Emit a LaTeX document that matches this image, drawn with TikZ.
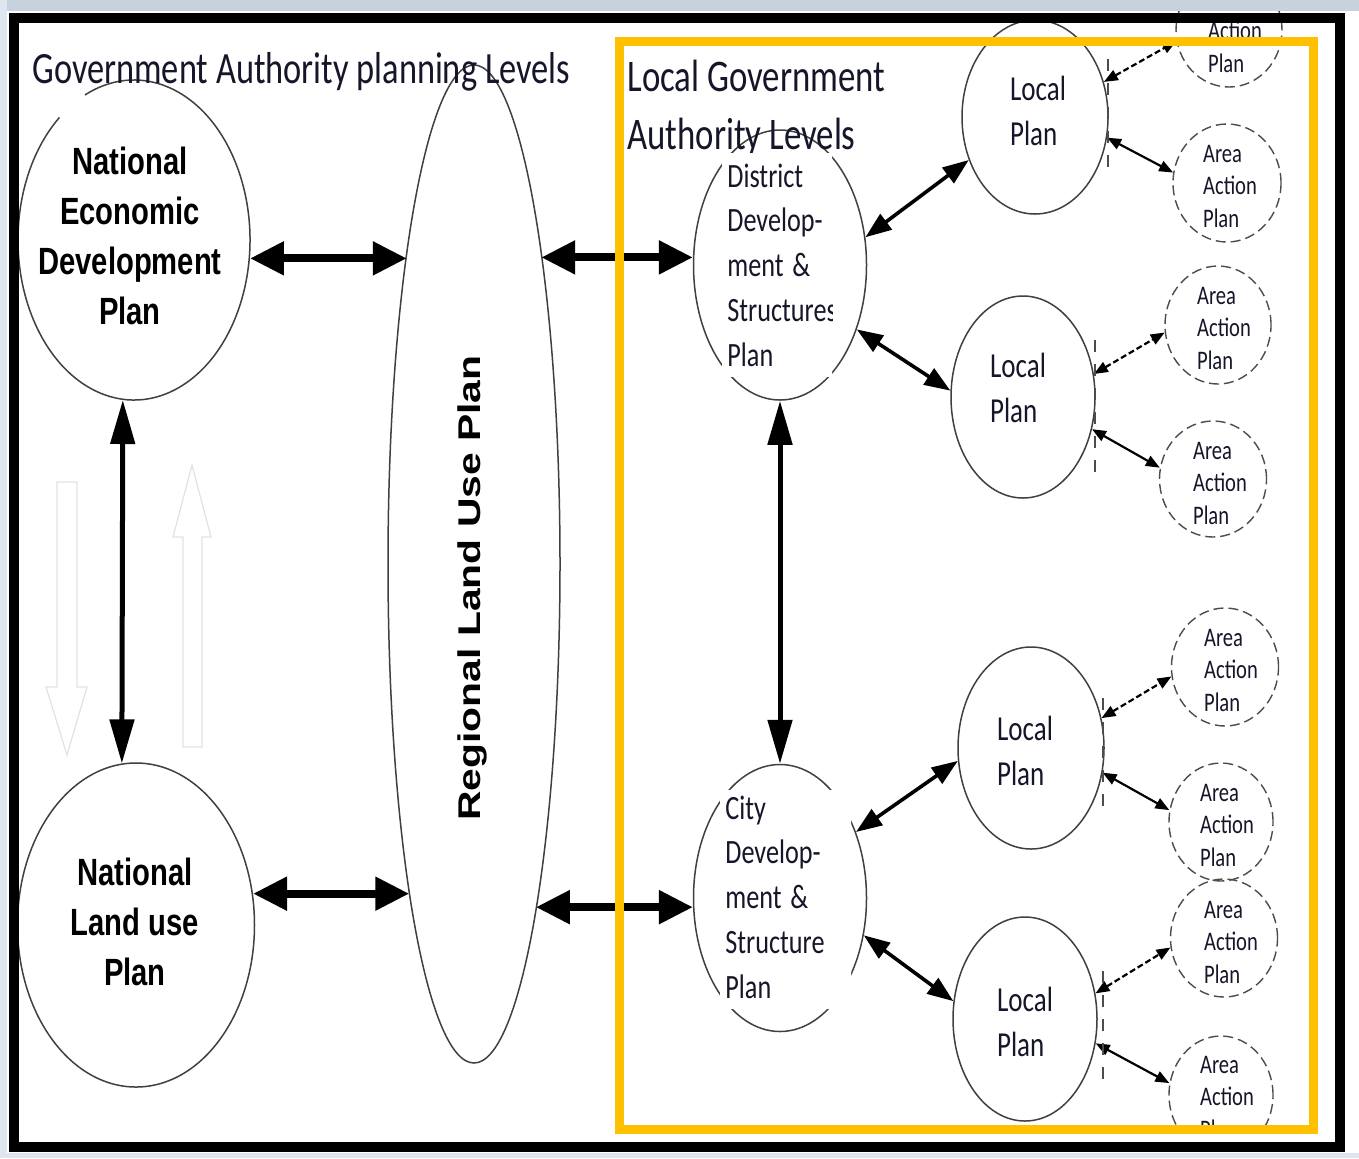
\documentclass[tikz,border=0pt]{standalone}
\usepackage{fontspec}
\setmainfont{Carlito}
\newfontfamily\arialfont{Liberation Sans}
\usetikzlibrary{shapes.geometric,arrows.meta}

\definecolor{inktext}{RGB}{22,22,42}
\definecolor{frameyellow}{RGB}{255,192,0}
\definecolor{bandtop}{RGB}{200,209,222}
\definecolor{bandside}{RGB}{222,230,240}
\definecolor{ghostgrey}{RGB}{226,226,226}

\tikzset{
  plan/.style={ellipse, draw=black!75, line width=0.75pt, inner sep=0pt},
  areaplan/.style={ellipse, draw=black!70, line width=0.7pt, dash pattern=on 5pt off 2.5pt, inner sep=0pt, minimum width=53pt, minimum height=59pt},
  stretch/.style={yscale=1.3},
  titletext/.style={stretch, inner sep=0pt, text=inktext, font=\fontsize{17.2pt}{22pt}\selectfont},
  boldtext/.style={stretch, inner sep=0pt, align=center, font=\arialfont\bfseries\fontsize{14.6pt}{19.2pt}\selectfont},
  structbox/.style={stretch, fill=white, inner xsep=2.5pt, inner ysep=4pt, align=left, text=inktext, font=\fontsize{13.1pt}{17.2pt}\selectfont},
  localtext/.style={stretch, inner sep=0pt, align=left, text=inktext, font=\fontsize{13.5pt}{17pt}\selectfont},
  areatext/.style={stretch, inner sep=0pt, align=left, text=inktext, font=\fontsize{10.3pt}{12.5pt}\selectfont},
  bigarrow/.style={line width=4pt, arrows={Triangle[length=17pt,width=16pt]-Triangle[length=17pt,width=16pt]}},
  vertarrow/.style={line width=2.5pt, arrows={Triangle[length=22pt,width=12pt]-Triangle[length=22pt,width=12pt]}},
  midarrow/.style={line width=1.8pt, arrows={Triangle[length=13pt,width=9.5pt]-Triangle[length=13pt,width=9.5pt]}},
  smallarrow/.style={line width=1.1pt, arrows={Triangle[length=7pt,width=5.5pt]-Triangle[length=7pt,width=5.5pt]}},
  ghostarrow/.style={draw=ghostgrey, line width=0.6pt},
  boxedge/.style={black!70, line width=0.6pt, dash pattern=on 6pt off 6pt}
}

\begin{document}
\begin{tikzpicture}[x=0.5pt, y=-0.5pt]
\useasboundingbox (0,0) rectangle (1359,1158);
\fill[white] (0,0) rectangle (1359,1158);

% pale hollow arrows
\draw[ghostarrow] (57,482) -- (77,482) -- (77,687) -- (87,687) -- (67,755) -- (46,687) -- (57,687) -- cycle;
\draw[ghostarrow] (183,747) -- (202,747) -- (202,537) -- (211,537) -- (192,465) -- (173,537) -- (183,537) -- cycle;

% national and regional plans
\node (nedp) [plan, draw=none, minimum width=116pt, minimum height=160pt] at (134,240) {};
\draw[black!75, line width=0.75pt] (134,240) ++(245:116 and 160) arc[start angle=245, end angle=590, x radius=116, y radius=160];
\node (nlup) [plan, minimum width=118.5pt, minimum height=162pt] at (136,925) {};
\node (rlup) [plan, minimum width=86pt, minimum height=499pt] at (474,564) {};

% local government plans
\node (district) [plan, minimum width=86.5pt, minimum height=135pt] at (780,265) {};
\node (city) [plan, minimum width=86.5pt, minimum height=133.5pt] at (780,898) {};
\node (lp1) [plan, minimum width=73pt, minimum height=97pt] at (1035,117) {};
\node (lp2) [plan, minimum width=72pt, minimum height=101pt] at (1023,397) {};
\node (lp3) [plan, minimum width=73pt, minimum height=101pt] at (1031,748) {};
\node (lp4) [plan, minimum width=72pt, minimum height=102pt] at (1025,1019) {};

\node (aap0) [areaplan, minimum height=57pt] at (1229,30) {};
\node (aap1) [areaplan, minimum width=54pt] at (1227,183) {};
\node (aap2) [areaplan] at (1218,325) {};
\node (aap3) [areaplan, minimum width=53.5pt, minimum height=58pt] at (1213,479) {};
\node (aap4) [areaplan, minimum width=53.5pt] at (1225,667) {};
\node (aap5) [areaplan, minimum width=52pt] at (1221,822) {};
\node (aap6) [areaplan, minimum width=53.5pt] at (1224,938) {};
\begin{scope}
\clip (1100,1000) rectangle (1300,1131);
\node (aap7) [areaplan, minimum width=52pt] at (1221,1095) {};
\node (aap7text) [areatext] at (1227,1097) {Area\\Action\\Plan};
\end{scope}

% texts
\node (govtitle) [titletext, anchor=base west] at (32,83) {Government Authority planning Levels};
\node (lgatitle) [titletext, font=\fontsize{17.4pt}{22pt}\selectfont, anchor=north west, align=left] at (627,60) {Local Government\\Authority Levels};
\node (nedptext) [boldtext] at (130,236) {National\\Economic\\Development\\Plan};
\node (nluptext) [boldtext] at (135,922) {National\\Land use\\Plan};
\node (rluptext) [stretch, rotate=90, inner sep=0pt, font=\arialfont\bfseries\fontsize{15.7pt}{18pt}\selectfont] at (472,588) {Regional Land Use Plan};

\begin{scope}
\clip (722,150) rectangle (832,376);
\node (districttext) [structbox, text width=56pt, anchor=west] at (722,265) {District\\Develop-\\ment \&\\Structures\\Plan};
\end{scope}
\begin{scope}
\clip (720,790) rectangle (851,1010);
\node (citytext) [structbox, text width=61pt, anchor=west] at (720,897) {City\\Develop-\\ment \&\\Structure\\Plan};
\end{scope}

\node (lp1text) [localtext] at (1038,111) {Local\\Plan};
\node (lp2text) [localtext] at (1018,388) {Local\\Plan};
\node (lp3text) [localtext] at (1025,751) {Local\\Plan};
\node (lp4text) [localtext] at (1025,1022) {Local\\Plan};

\node (aap0text) [areatext] at (1235,47) {Action\\Plan};
\node (aap1text) [areatext] at (1230,186) {Area\\Action\\Plan};
\node (aap2text) [areatext] at (1224,328) {Area\\Action\\Plan};
\node (aap3text) [areatext] at (1220,483) {Area\\Action\\Plan};
\node (aap4text) [areatext] at (1231,670) {Area\\Action\\Plan};
\node (aap5text) [areatext] at (1227,825) {Area\\Action\\Plan};
\node (aap6text) [areatext] at (1231,942) {Area\\Action\\Plan};

% connectors
\draw[bigarrow] (nedp.-9) -- (rlup.102 |- nedp.-9);
\draw[bigarrow] (rlup.78 |- district.175) -- (district.175);
\draw[bigarrow] (nlup.15) -- (rlup.-101 |- nlup.15);
\draw[bigarrow] (rlup.-80 |- city.186) -- (city.186);
\draw[vertarrow] (nedp.-94) -- (nlup.95);
\draw[vertarrow] (district.south) -- (city.north);

\draw[midarrow] (district.18) -- (lp1.-147);
\draw[midarrow] (district.-40) -- (lp2.175);
\draw[midarrow] (city.41) -- (lp3.190);
\draw[midarrow] (city.-24) -- (lp4.166);

\draw[smallarrow, dash pattern=on 3pt off 1.5pt] (lp1.27) -- (aap0.192);
\draw[smallarrow] (lp1.-16) -- (aap1.169);
\draw[smallarrow, dash pattern=on 3pt off 1.5pt] (lp2.18) -- (aap2.188);
\draw[smallarrow] (lp2.-25) -- (aap3.168);
\draw[smallarrow, dash pattern=on 3pt off 1.5pt] (lp3.23) -- (aap4.190);
\draw[smallarrow] (lp3.-19) -- (aap5.167);
\draw[smallarrow, dash pattern=on 3pt off 1.5pt] (lp4.20) -- (aap6.190);
\draw[smallarrow] (lp4.-19) -- (aap7.167);

\draw[boxedge] (1108,59) -- (1108,176);
\draw[boxedge] (1095,340) -- (1095,472);
\draw[boxedge] (1103,698) -- (1103,816);
\draw[boxedge] (1103,971) -- (1103,1085);

% frames
\draw[frameyellow, line width=4.5pt] (619,41) rectangle (1313,1129);
\draw[black, line width=5pt] (14,18) rectangle (1340,1147);
\fill[bandtop] (0,0) rectangle (1359,11);
\fill[bandside] (0,0) rectangle (7,1158);
\fill[bandside] (0,1153) rectangle (1359,1158);
\end{tikzpicture}
\end{document}
